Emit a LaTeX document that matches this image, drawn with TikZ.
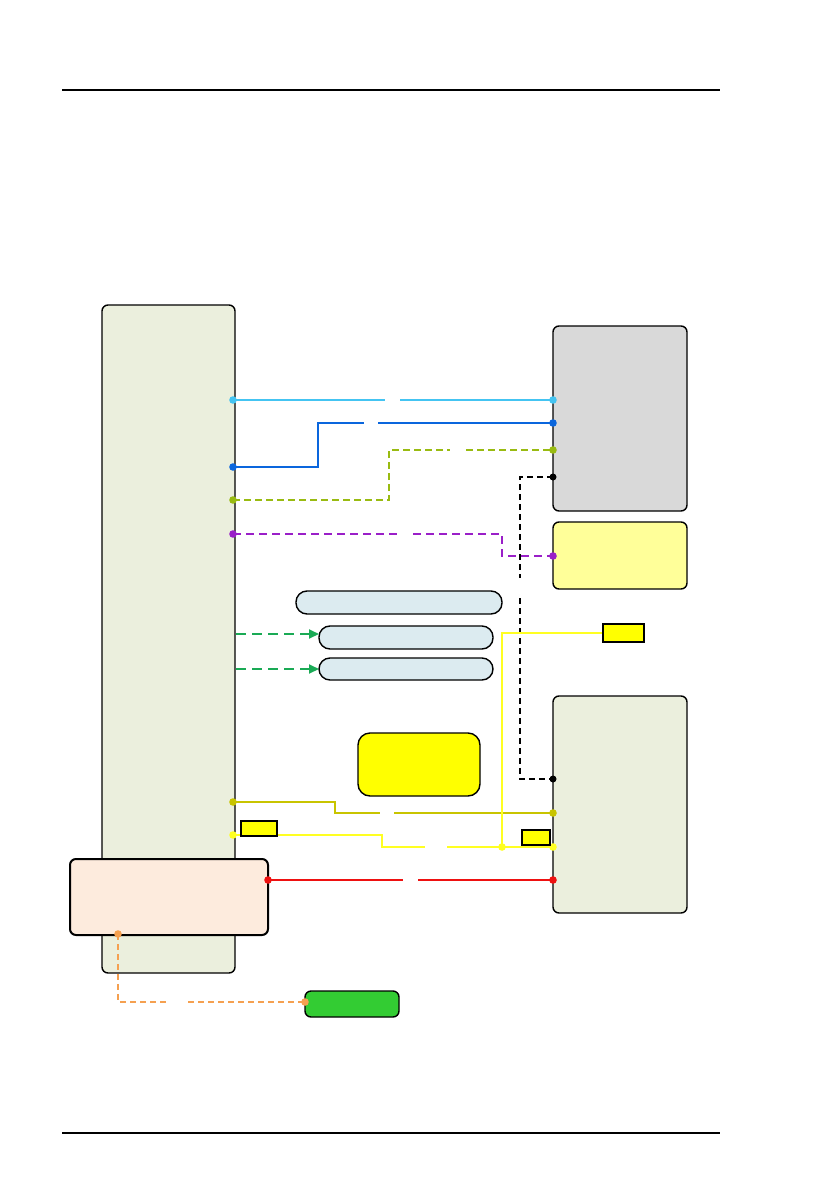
\documentclass[tikz,border=0pt]{standalone}
\usetikzlibrary{arrows.meta}
\definecolor{lgreen}{HTML}{EBEFDD}
\definecolor{lgray}{HTML}{D9D9D9}
\definecolor{lyel}{HTML}{FFFF99}
\definecolor{pillc}{HTML}{DCEBF0}
\definecolor{peach}{HTML}{FDEBDD}
\definecolor{gbox}{HTML}{33CC33}
\definecolor{pyel}{HTML}{FFFF00}
\definecolor{cLblue}{HTML}{44C4F2}
\definecolor{cBlue}{HTML}{0A66DD}
\definecolor{cYg}{HTML}{99BB11}
\definecolor{cPur}{HTML}{9A1FC8}
\definecolor{cOl}{HTML}{C8C400}
\definecolor{cYel}{HTML}{FFFF22}
\definecolor{cRed}{HTML}{EE1111}
\definecolor{cOr}{HTML}{F5A050}
\definecolor{cGr}{HTML}{1AAA55}
\begin{document}
\begin{tikzpicture}[x=1pt,y=-1pt,
  box/.style={draw=black,line width=1.4pt,rounded corners=6pt,inner sep=0pt,rectangle},
  pill/.style={draw=black,line width=1.4pt,rounded corners=11pt,inner sep=0pt,fill=pillc,rectangle},
  tag/.style={draw=black,line width=1.3pt,inner sep=0pt,fill=pyel,rectangle},
  conn/.style={line width=1.8pt},
  dsh/.style={dash pattern=on 7pt off 4pt},
  garrow/.style={draw=cGr,line width=1.8pt,dash pattern=on 10pt off 6pt,-{Triangle[length=10pt,width=9pt]}},
  rule/.style={draw=black,line width=1.2pt}]
\useasboundingbox (0,0) rectangle (838,1190);
% page rules
\coordinate (h1) at (62,90); \coordinate (h2) at (720,90);
\coordinate (f1) at (62,1133); \coordinate (f2) at (720,1133);
\draw[rule] (h1) -- (h2);
\draw[rule] (f1) -- (f2);
% boxes
\node[box,fill=lgreen,minimum width=133pt,minimum height=668pt] (L) at (168.5,639) {};
\node[box,fill=lgray,minimum width=134pt,minimum height=185pt] (G) at (620,418.5) {};
\node[box,fill=lyel,minimum width=134pt,minimum height=67pt] (Y) at (620,555.5) {};
\node[box,fill=lgreen,minimum width=134pt,minimum height=217pt] (R) at (620,804.5) {};
\node[pill,minimum width=206pt,minimum height=23pt] (P1) at (399,602.5) {};
\node[pill,minimum width=174pt,minimum height=23pt] (P2) at (406,637.5) {};
\node[pill,minimum width=174pt,minimum height=22pt] (P3) at (406,669) {};
\node[box,fill=pyel,rounded corners=12pt,minimum width=122pt,minimum height=63pt] (YB) at (419,764.5) {};
\node[box,fill=peach,line width=2pt,minimum width=198pt,minimum height=76pt] (PE) at (169,897) {};
\node[box,fill=gbox,minimum width=94pt,minimum height=26pt] (GB) at (352,1004) {};
% green arrows
\coordinate (ga1) at (236,634); \coordinate (ga2) at (236,669);
\coordinate (gb1) at (319,634); \coordinate (gb2) at (319,669);
\draw[garrow] (ga1) -- (gb1);
\draw[garrow] (ga2) -- (gb2);
% light blue
\coordinate (a1) at (233,400); \coordinate (a2) at (553,400);
\draw[conn,cLblue,line width=2.3pt] (a1) -- (385,400) (400,400) -- (a2);
\fill[cLblue] (a1) circle (3.8) (a2) circle (3.8);
% blue
\coordinate (b1) at (233,467); \coordinate (b2) at (553,423);
\draw[conn,cBlue] (b1) -- (318,467) -- (318,423) -- (364,423) (378,423) -- (b2);
\fill[cBlue] (b1) circle (3.8) (b2) circle (3.8);
% yellow-green dashed
\coordinate (c1) at (233,500); \coordinate (c2) at (553,450);
\draw[conn,cYg,dsh] (c1) -- (389,500) -- (389,450) -- (450,450) (466,450) -- (c2);
\fill[cYg] (c1) circle (3.8) (c2) circle (3.8);
% purple dashed
\coordinate (d1) at (233,534); \coordinate (d2) at (553,556);
\draw[conn,cPur,dash pattern=on 8pt off 5pt] (d1) -- (397,534) (413,534) -- (502,534) -- (502,556) -- (d2);
\fill[cPur] (d1) circle (3.8) (d2) circle (3.8);
% black dashed
\coordinate (e1) at (553,477); \coordinate (e2) at (553,779);
\draw[line width=1.6pt,black,dash pattern=on 6pt off 4pt] (e1) -- (520,477) -- (520,578) (520,598) -- (520,779) -- (e2);
\fill[black] (e1) circle (3.5) (e2) circle (3.5);
% olive
\coordinate (o1) at (233,802); \coordinate (o2) at (553,813);
\draw[conn,cOl] (o1) -- (335,802) -- (335,813) -- (380,813) (394,813) -- (o2);
\fill[cOl] (o1) circle (3.8) (o2) circle (3.8);
% yellow
\coordinate (y1) at (233,835); \coordinate (y2) at (553,847); \coordinate (yj) at (502,847);
\draw[conn,cYel] (y1) -- (382,835) -- (382,847) -- (425,847) (447,847) -- (y2);
\fill[cYel] (y1) circle (3.8) (y2) circle (3.8) (yj) circle (3.8);
% yellow to tag
\node[tag,minimum width=41pt,minimum height=18pt] (S1) at (623.5,633) {};
\draw[conn,cYel] (yj) -- (502,633) -- (S1.west);
% red
\coordinate (r1) at (268,880); \coordinate (r2) at (553,880);
\draw[conn,cRed] (r1) -- (403,880) (418,880) -- (r2);
\fill[cRed] (r1) circle (3.8) (r2) circle (3.8);
% orange dashed
\coordinate (q1) at (118,934); \coordinate (q2) at (305,1002);
\draw[line width=1.4pt,cOr,dash pattern=on 6pt off 4pt] (q1) -- (118,1002) -- (167,1002) (188,1002) -- (q2);
\fill[cOr] (q1) circle (3.8) (q2) circle (3.8);
% small tags
\node[tag,minimum width=36pt,minimum height=15pt] (S2) at (259,828.5) {};
\node[tag,minimum width=28pt,minimum height=15pt] (S3) at (536,837.5) {};
\end{tikzpicture}
\end{document}
